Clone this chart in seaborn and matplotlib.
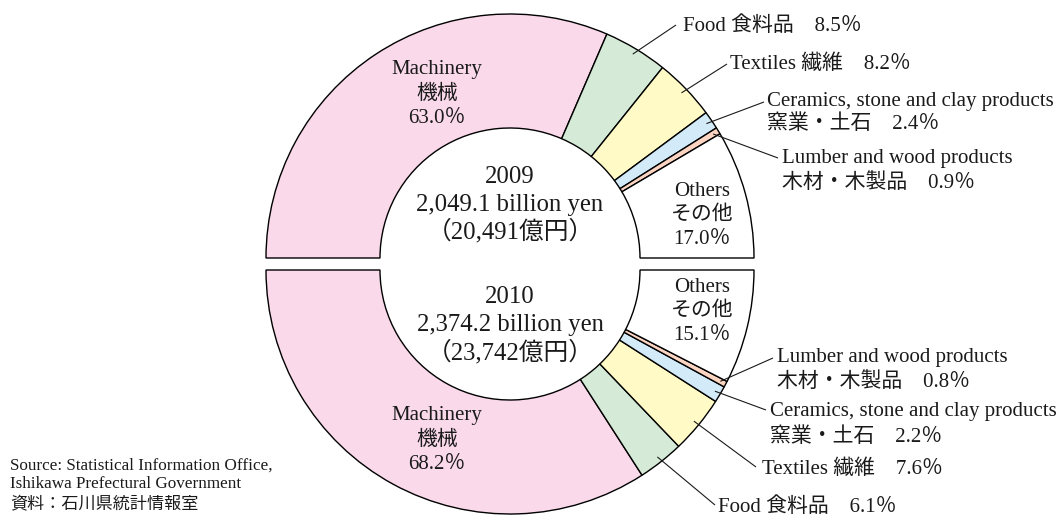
import numpy as np
import seaborn as sns
import matplotlib.pyplot as plt

sns.set_theme(style="white")
plt.rcParams["font.family"] = ["Liberation Serif", "Noto Sans CJK JP", "DejaVu Sans"]

# data
categories = ["Machinery", "Food", "Textiles", "Ceramics", "Lumber", "Others"]
share_2009 = [63.0, 8.5, 8.2, 2.4, 0.9, 17.0]
share_2010 = [68.2, 6.1, 7.6, 2.2, 0.8, 15.1]
totals = {"2009": ("2,049.1 billion yen", "（20,491億円）"),
          "2010": ("2,374.2 billion yen", "（23,742億円）")}
jp_names = {"Machinery": "機械", "Food": "食料品", "Textiles": "繊維",
            "Ceramics": "窯業・土石", "Lumber": "木材・木製品", "Others": "その他"}
en_names = {"Ceramics": "Ceramics, stone and clay products",
            "Lumber": "Lumber and wood products"}

colors = ["#f9d9ea", "#d5ebd7", "#fffac6", "#d3eaf8", "#fbd4c2", "#ffffff"]
TXT = "#1a1a1a"

W, H = 1059, 515
fig = plt.figure(figsize=(W / 100, H / 100), dpi=100)
ax = fig.add_axes([0, 0, 1, 1])

R_OUT, R_IN = 244, 130
cx = 510
c_top = (cx, H - 258)
c_bot = (cx, H - 270)


def py(y):
    return H - y


def half_donut(values, center, counterclock):
    wedges, _ = ax.pie(values + [100], startangle=180, counterclock=counterclock,
                       colors=colors + ["none"], radius=R_OUT, center=center,
                       wedgeprops=dict(width=R_OUT - R_IN, edgecolor="black",
                                       linewidth=1.0))
    wedges[-1].set_visible(False)
    return wedges[:-1]


w_top = half_donut(share_2009, c_top, counterclock=False)
w_bot = half_donut(share_2010, c_bot, counterclock=True)


def anchor(wedge, center, r=R_OUT - 6):
    a = np.deg2rad((wedge.theta1 + wedge.theta2) / 2)
    return center[0] + r * np.cos(a), center[1] + r * np.sin(a)


def lines(x, ys, texts, size=15, ha="center"):
    for y, t in zip(ys, texts):
        ax.text(x, py(y), t, ha=ha, va="baseline", fontsize=size, color=TXT)


def pct(v):
    return f"{v:.1f}％"


# labels inside the rings
lines(437, [74, 99, 123], ["Machinery", jp_names["Machinery"], pct(share_2009[0])])
lines(702, [196, 220, 244], ["Others", jp_names["Others"], pct(share_2009[5])])
lines(437, [420, 445, 469], ["Machinery", jp_names["Machinery"], pct(share_2010[0])])
lines(702, [292, 316, 340], ["Others", jp_names["Others"], pct(share_2010[5])])

# center totals
lines(cx, [183, 211, 238], ["2009", *totals["2009"]], size=17.8)
lines(cx, [303, 331, 359], ["2010", *totals["2010"]], size=17.8)

# leader-line labels: (index, text x, baselines, line end)
callouts_top = [
    (1, 683, [31], (676, 25)),
    (2, 730, [69], (727, 64)),
    (3, 767, [106, 129], (764, 102)),
    (4, 782, [163, 188], (778, 158)),
]
callouts_bot = [
    (4, 777, [362, 387], (773, 358)),
    (3, 770, [416, 442], (766, 410)),
    (2, 762, [474], (756, 467)),
    (1, 718, [512], (715, 505)),
]


def callout(wedges, center, values, spec):
    for i, x, ys, end in spec:
        name = categories[i]
        sx, sy = anchor(wedges[i], center)
        ax.plot([sx, end[0]], [sy, py(end[1])], color=TXT, lw=0.8,
                solid_capstyle="butt")
        if len(ys) == 1:
            lines(x, ys, [f"{name} {jp_names[name]}　{pct(values[i])}"], ha="left")
        else:
            lines(x, ys, [en_names[name], f"{jp_names[name]}　{pct(values[i])}"],
                  ha="left")


callout(w_top, c_top, share_2009, callouts_top)
callout(w_bot, c_bot, share_2010, callouts_bot)

# source note
lines(10, [470, 488, 508], ["Source: Statistical Information Office,",
                            "Ishikawa Prefectural Government",
                            "資料：石川県統計情報室"], size=12.3, ha="left")

ax.set_xlim(0, W)
ax.set_ylim(0, H)
ax.set_aspect("auto")
ax.set_axis_off()
fig.savefig("out.png", dpi=100)
